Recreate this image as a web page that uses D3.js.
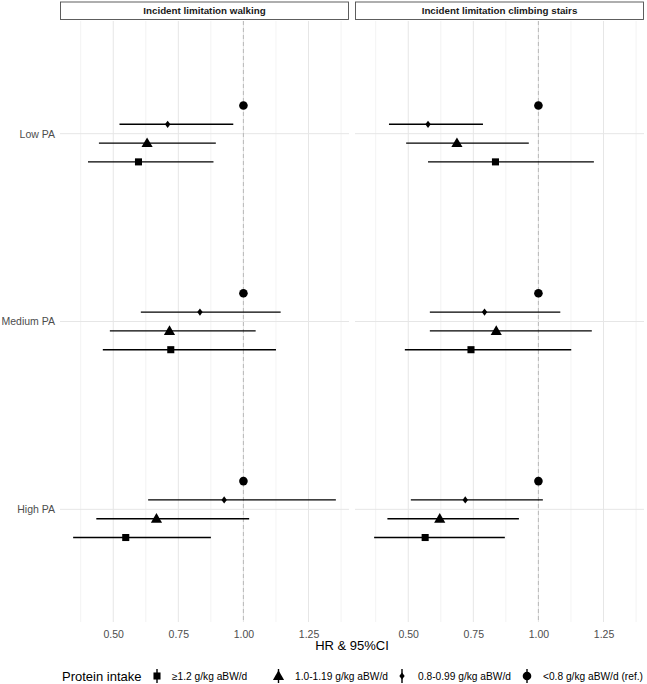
<!DOCTYPE html>
<html>
<head>
<meta charset="utf-8">
<script src="https://cdn.jsdelivr.net/npm/d3@7"></script>
<style>
  html, body { margin: 0; padding: 0; background: #fff; }
  svg { display: block; font-family: "Liberation Sans", Arial, sans-serif; }
</style>
</head>
<body>
<svg id="chart" width="647" height="684"></svg>
<script>
// ---------------- data ----------------
const outcomes = ["Incident limitation walking", "Incident limitation climbing stairs"];
const categories = ["Low PA", "Medium PA", "High PA"];
const groups = ["≥1.2 g/kg aBW/d", "1.0-1.19 g/kg aBW/d", "0.8-0.99 g/kg aBW/d", "<0.8 g/kg aBW/d (ref.)"];
const xTicks = [0.50, 0.75, 1.00, 1.25];

// rows: categories; columns: groups (same order as `groups`)
const walkingHR = [[0.597, 0.630, 0.709, 1.00], [0.721, 0.716, 0.833, 1.00], [0.548, 0.666, 0.926, 1.00]];
const walkingLo = [[0.403, 0.445, 0.524, 1.00], [0.460, 0.487, 0.606, 1.00], [0.346, 0.435, 0.634, 1.00]];
const walkingHi = [[0.885, 0.894, 0.961, 1.00], [1.125, 1.047, 1.143, 1.00], [0.875, 1.022, 1.355, 1.00]];

const stairsHR = [[0.835, 0.687, 0.576, 1.00], [0.741, 0.838, 0.793, 1.00], [0.565, 0.621, 0.719, 1.00]];
const stairsLo = [[0.576, 0.492, 0.426, 1.00], [0.487, 0.583, 0.583, 1.00], [0.369, 0.420, 0.510, 1.00]];
const stairsHi = [[1.213, 0.963, 0.787, 1.00], [1.126, 1.205, 1.084, 1.00], [0.871, 0.925, 1.017, 1.00]];

// ---------------- build table ----------------
const sets = [[walkingHR, walkingLo, walkingHi], [stairsHR, stairsLo, stairsHi]];
const rows = [];
outcomes.forEach((o, oi) => {
  const [hr, lo, hi] = sets[oi];
  categories.forEach((c, ci) => {
    groups.forEach((g, gi) => {
      rows.push({ outcome: o, cat: c, group: g, hr: hr[ci][gi], lo: lo[ci][gi], hi: hi[ci][gi] });
    });
  });
});

// ---------------- layout ----------------
const svg = d3.select("#chart");
const panelW = 289;
const panelX = [60, 355];
const panelTop = 21, panelBot = 622;
const stripTop = 2, stripBot = 19.5;
const FONT = "Liberation Sans, Arial, sans-serif";

const minV = d3.min(rows, d => d.lo), maxV = d3.max(rows, d => d.hi);
const pad = (maxV - minV) * 0.05;
const x = d3.scaleLinear().domain([minV - pad, maxV + pad]).range([0, panelW]);
const y = d3.scalePoint().domain(categories).range([panelTop, panelBot]).padding(0.6);
// dodge: reference on top, then descending order
const dodge = d3.scalePoint().domain(groups.slice().reverse()).range([-28.2, 28.2]);

const minorTicks = [];
for (let i = 0; i < xTicks.length - 1; i++) minorTicks.push((xTicks[i] + xTicks[i + 1]) / 2);
minorTicks.unshift(xTicks[0] - (xTicks[1] - xTicks[0]) / 2);
minorTicks.push(xTicks[xTicks.length - 1] + (xTicks[1] - xTicks[0]) / 2);

const shapeFor = {};
shapeFor[groups[0]] = d3.symbol().type(d3.symbolSquare).size(50)();
shapeFor[groups[1]] = d3.symbol().type(d3.symbolTriangle).size(54)();
shapeFor[groups[2]] = "M0,-3.6L2.7,0L0,3.6L-2.7,0Z";
shapeFor[groups[3]] = d3.symbol().type(d3.symbolCircle).size(58)();

outcomes.forEach((o, oi) => {
  const g = svg.append("g").attr("transform", `translate(${panelX[oi]},0)`);
  // grid
  g.selectAll(".minor").data(minorTicks.filter(t => x(t) >= 0 && x(t) <= panelW)).enter().append("line")
    .attr("x1", d => x(d)).attr("x2", d => x(d)).attr("y1", panelTop).attr("y2", panelBot)
    .attr("stroke", "#EBEBEB").attr("stroke-width", 0.6);
  g.selectAll(".major").data(xTicks).enter().append("line")
    .attr("x1", d => x(d)).attr("x2", d => x(d)).attr("y1", panelTop).attr("y2", panelBot)
    .attr("stroke", "#E6E6E6").attr("stroke-width", 1);
  g.selectAll(".hgrid").data(categories).enter().append("line")
    .attr("x1", 0).attr("x2", panelW).attr("y1", d => y(d)).attr("y2", d => y(d))
    .attr("stroke", "#E6E6E6").attr("stroke-width", 1);
  // reference line
  g.append("line").attr("x1", x(1)).attr("x2", x(1)).attr("y1", panelTop).attr("y2", panelBot)
    .attr("stroke", "#BDBDBD").attr("stroke-width", 1.1).attr("stroke-dasharray", "4,3");

  // strip
  g.append("rect").attr("x", 0.5).attr("y", stripTop).attr("width", panelW - 1).attr("height", stripBot - stripTop)
    .attr("fill", "#fff").attr("stroke", "#4D4D4D").attr("stroke-width", 0.9);
  g.append("text").attr("x", panelW / 2).attr("y", (stripTop + stripBot) / 2).attr("dy", "0.35em")
    .attr("text-anchor", "middle").attr("font-size", 9.8).attr("font-weight", "bold").attr("fill", "#1A1A1A").text(o);

  // x axis
  const ax = g.append("g").attr("transform", `translate(0,${panelBot})`)
    .call(d3.axisBottom(x).tickValues(xTicks).tickFormat(d3.format(".2f")).tickSize(0).tickPadding(9));
  ax.select(".domain").remove();
  ax.selectAll("text").attr("font-size", 10.5).attr("fill", "#4D4D4D").attr("font-family", FONT);

  // y axis (left panel only)
  if (oi === 0) {
    const ay = g.append("g").call(d3.axisLeft(y).tickSize(0).tickPadding(5));
    ay.select(".domain").remove();
    ay.selectAll("text").attr("font-size", 10.5).attr("fill", "#4D4D4D").attr("font-family", FONT);
  }

  const data = rows.filter(r => r.outcome === o);
  g.selectAll(".ci").data(data.filter(d => d.hi > d.lo)).enter().append("line")
    .attr("x1", d => x(d.lo)).attr("x2", d => x(d.hi))
    .attr("y1", d => y(d.cat) + dodge(d.group)).attr("y2", d => y(d.cat) + dodge(d.group))
    .attr("stroke", "#000").attr("stroke-width", 1.4);
  g.selectAll(".pt").data(data).enter().append("path")
    .attr("d", d => shapeFor[d.group])
    .attr("transform", d => `translate(${x(d.hr)},${y(d.cat) + dodge(d.group) + (d.group === groups[1] ? 0.8 : 0)})`)
    .attr("fill", "#000");
});

// x title
svg.append("text").attr("x", (panelX[0] + panelX[1] + panelW) / 2).attr("y", 650)
  .attr("text-anchor", "middle").attr("font-size", 13).attr("fill", "#000").text("HR & 95%CI");

// legend
const legY = 676;
svg.append("text").attr("x", 62).attr("y", legY).attr("dy", "0.35em").attr("font-size", 13).attr("fill", "#000").text("Protein intake");
const keyX = [157, 278.5, 402, 527];
const labX = [172, 295, 418, 543];
groups.forEach((gname, i) => {
  svg.append("line").attr("x1", keyX[i]).attr("x2", keyX[i]).attr("y1", legY - 7).attr("y2", legY + 7)
    .attr("stroke", "#000").attr("stroke-width", 1.4);
  svg.append("path").attr("d", shapeFor[gname])
    .attr("transform", `translate(${keyX[i]},${legY + (i === 1 ? 0.8 : 0)})`).attr("fill", "#000");
  svg.append("text").attr("x", labX[i]).attr("y", legY).attr("dy", "0.35em")
    .attr("font-size", 10.2).attr("fill", "#000").text(gname);
});
</script>
</body>
</html>
